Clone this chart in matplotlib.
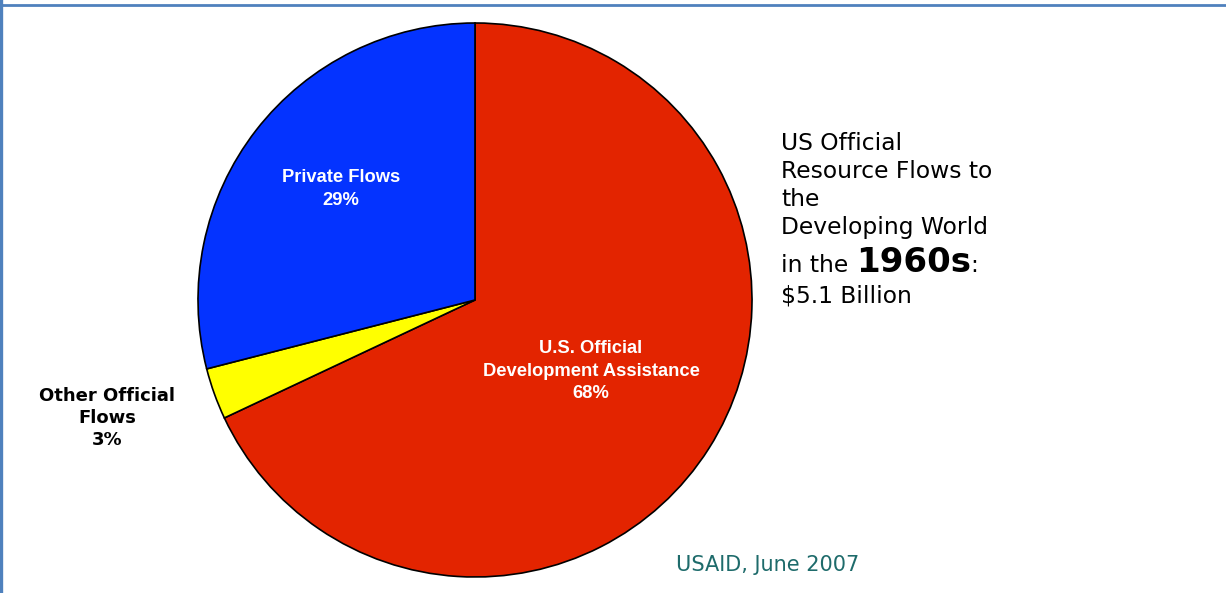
import matplotlib
matplotlib.use("Agg")
import matplotlib.pyplot as plt
from matplotlib.lines import Line2D

# resource flow shares, 1960s
labels = ["U.S. Official\nDevelopment Assistance\n68%", "Other Official\nFlows\n3%", "Private Flows\n29%"]
shares = [68, 3, 29]
colors = ["#E32400", "#FFFF00", "#0433FF"]

W, H = 1226, 593
fig = plt.figure(figsize=(W / 100, H / 100), dpi=100)
ax = fig.add_axes([0, 0, 1, 1])

# frame lines on top and left
fig.add_artist(Line2D([0, 1], [1 - 4.5 / H, 1 - 4.5 / H], color="#4F81BD", lw=2.0, transform=fig.transFigure))
fig.add_artist(Line2D([1.5 / W, 1.5 / W], [0, 1], color="#4F81BD", lw=2.4, transform=fig.transFigure))

cx, cy, r = 475, H - 300, 277
ax.pie(shares, colors=colors, center=(cx, cy), radius=r, startangle=90,
       counterclock=False, wedgeprops=dict(edgecolor="black", linewidth=1.2),
       frame=True)
ax.set_xlim(0, W)
ax.set_ylim(0, H)
ax.set_aspect("equal")
ax.axis("off")

inner = dict(color="white", fontsize=13.2, fontweight="bold", family="Liberation Sans",
             ha="center", va="center", linespacing=1.4)
ax.text(591, H - 371, labels[0], **inner)
ax.text(341, H - 189, labels[2], **inner)
ax.text(107, H - 418, labels[1], color="black", fontsize=13, fontweight="bold",
        family="DejaVu Sans", ha="center", va="center", linespacing=1.3)

# title block on the right
title_lines = ["US Official", "Resource Flows to", "the", "Developing World"]
for i, line in enumerate(title_lines):
    ax.text(781, H - (150 + 28 * i), line, fontsize=16.8, family="DejaVu Sans",
            ha="left", va="baseline")

fig.canvas.draw()
rend = fig.canvas.get_renderer()
x = 781
base = H - 272
for s, size, weight in [("in the ", 16.8, "normal"), ("1960s", 24.5, "bold"), (":", 16.8, "normal")]:
    t = ax.text(x, base, s, fontsize=size, fontweight=weight, family="DejaVu Sans",
                ha="left", va="baseline")
    x += t.get_window_extent(rend).width
ax.text(781, H - 302, "$5.1 Billion", fontsize=16.8, family="DejaVu Sans",
        ha="left", va="baseline")

ax.text(676, H - 565, "USAID, June 2007", fontsize=15, color="#1E6B6B",
        family="DejaVu Sans", ha="left", va="center")

fig.savefig("out.png", dpi=100)
